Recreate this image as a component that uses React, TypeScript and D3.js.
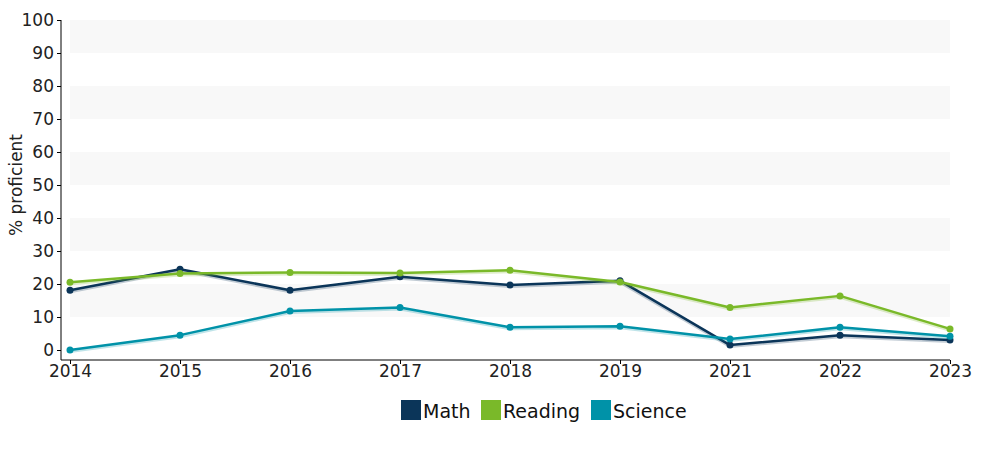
import React, { useEffect, useRef } from 'react';
import * as d3 from 'd3';

const years = ['2014', '2015', '2016', '2017', '2018', '2019', '2021', '2022', '2023'];
const mathValues = [18.1, 24.5, 18.1, 22.2, 19.7, 21.0, 1.5, 4.5, 3.0];
const readingValues = [20.5, 23.2, 23.5, 23.3, 24.2, 20.6, 12.9, 16.4, 6.4];
const scienceValues = [0.0, 4.5, 11.8, 12.9, 6.9, 7.2, 3.3, 6.9, 4.2];
const yTicks = [0, 10, 20, 30, 40, 50, 60, 70, 80, 90, 100];

const series = [
  { name: 'Math', values: mathValues, color: '#0b3559' },
  { name: 'Reading', values: readingValues, color: '#7ab929' },
  { name: 'Science', values: scienceValues, color: '#0092a8' },
];

const FONT = '"DejaVu Sans", Verdana, sans-serif';

export default function App() {
  const svgRef = useRef<SVGSVGElement>(null);

  useEffect(() => {
    if (!svgRef.current) return;
    const svg = d3.select(svgRef.current);
    svg.selectAll('*').remove();

    const x = d3.scalePoint<string>().domain(years).range([70, 950]);
    const y = d3.scaleLinear().domain([0, 100]).range([350, 20]);

    // alternating bands
    const bands = d3.range(10, 100, 20);
    svg.append('g')
      .selectAll('rect')
      .data(bands)
      .enter()
      .append('rect')
      .attr('x', 70)
      .attr('width', 880)
      .attr('y', d => y(d + 10))
      .attr('height', d => y(d) - y(d + 10))
      .attr('fill', '#f8f8f8');

    // y axis
    const yAxis = svg.append('g')
      .attr('transform', 'translate(61,0)')
      .call(d3.axisLeft(y).tickValues(yTicks).tickSize(4).tickPadding(3));
    yAxis.select('.domain').attr('stroke', '#000').attr('d', 'M0,20V360');
    yAxis.selectAll('text')
      .style('font-family', FONT)
      .style('font-size', '17px')
      .attr('fill', '#222')
      .attr('dy', '0.35em');

    // x axis
    const xAxis = svg.append('g')
      .attr('transform', 'translate(0,360)')
      .call(d3.axisBottom(x).tickSize(4).tickPadding(1));
    xAxis.select('.domain').attr('stroke', '#000').attr('d', 'M61,0H950');
    xAxis.selectAll('text')
      .style('font-family', FONT)
      .style('font-size', '17px')
      .attr('fill', '#222');

    // lines
    const line = d3.line<number>()
      .x((_, i) => x(years[i]) as number)
      .y(d => y(d));

    series.forEach(s => {
      const g = svg.append('g');
      g.append('path')
        .datum(s.values)
        .attr('d', line)
        .attr('fill', 'none')
        .attr('stroke', s.color)
        .attr('stroke-opacity', 0.25)
        .attr('stroke-width', 3)
        .attr('transform', 'translate(0,1.5)');
      g.append('path')
        .datum(s.values)
        .attr('d', line)
        .attr('fill', 'none')
        .attr('stroke', s.color)
        .attr('stroke-width', 2.5)
        .attr('stroke-linejoin', 'round');
      g.selectAll('circle')
        .data(s.values)
        .enter()
        .append('circle')
        .attr('cx', (_, i) => x(years[i]) as number)
        .attr('cy', d => y(d))
        .attr('r', 3.5)
        .attr('fill', s.color);
    });

    // y title
    svg.append('text')
      .attr('transform', 'translate(22,185) rotate(-90)')
      .attr('text-anchor', 'middle')
      .style('font-family', FONT)
      .style('font-size', '17px')
      .attr('fill', '#222')
      .text('% proficient');

    // legend
    const legendX = [401, 481, 591];
    const legend = svg.append('g');
    series.forEach((s, i) => {
      legend.append('rect')
        .attr('x', legendX[i])
        .attr('y', 400)
        .attr('width', 20)
        .attr('height', 20)
        .attr('fill', s.color);
      legend.append('text')
        .attr('x', legendX[i] + 22)
        .attr('y', 418)
        .style('font-family', FONT)
        .style('font-size', '19px')
        .attr('fill', '#111')
        .text(s.name);
    });
  }, []);

  return (
    <svg
      ref={svgRef}
      width={1000}
      height={450}
      style={{ position: 'absolute', left: 0, top: 0, background: '#fff' }}
    />
  );
}
